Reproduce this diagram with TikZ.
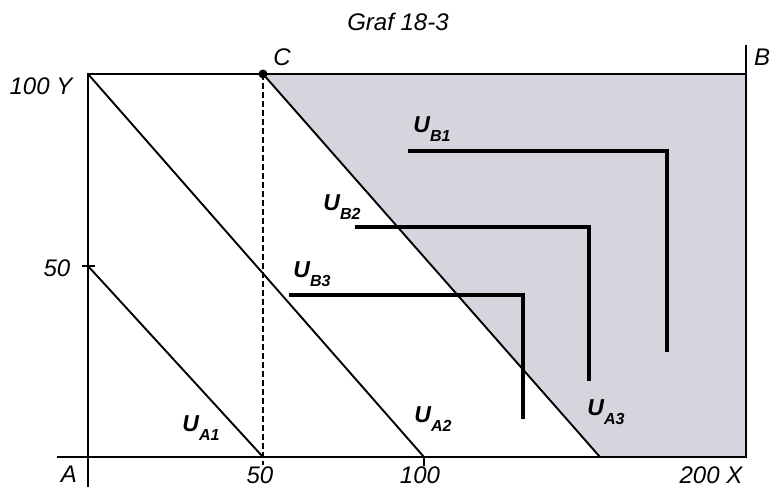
\documentclass[tikz,border=0pt]{standalone}
\usepackage{fontspec}
\setmainfont{Liberation Sans}
\usetikzlibrary{positioning}
\definecolor{shadegray}{RGB}{214,212,221}

\tikzset{
  axisline/.style={line width=2pt},
  budget/.style={line width=1.9pt},
  indiff/.style={line width=4.5pt},
  lbl/.style={font=\fontsize{24}{28}\selectfont\itshape, inner sep=0pt},
  ulbl/.style={font=\fontsize{23}{26}\selectfont\bfseries\itshape, inner sep=0pt},
}
\newcommand{\usub}[1]{U\raisebox{-9pt}{\fontsize{16}{18}\selectfont #1}}

\begin{document}
\begin{tikzpicture}[x=1pt,y=-1pt]
    \useasboundingbox (0,0) rectangle (771,487);

    % Box corners
    \coordinate (A) at (88,457);
    \coordinate (ytop) at (88,74);
    \coordinate (C) at (263,74);
    \coordinate (btop) at (746,74);
    \coordinate (B) at (746,457);
    \coordinate (ymid) at (88,266);
    \coordinate (x50) at (263,457);
    \coordinate (x100) at (424,457);
    \coordinate (a3end) at (600,457);

    % Shaded region
    \fill[shadegray] (C) -- (btop) -- (B) -- (a3end) -- cycle;

    % Axes and box
    \draw[axisline] (88,487) -- (ytop) -- (btop);
    \draw[axisline] (57,457) -- (B) -- (746,45);
    \draw[axisline] (82,266) -- (95,266);
    \draw[axisline] (x100) -- ++(0,9);
    \draw[dash pattern=on 6pt off 3pt, line width=1.3pt] (C) -- (263,465);
    \fill (C) circle (4.5pt);

    % Budget lines
    \draw[budget] (ymid) -- (x50);
    \draw[budget] (ytop) -- (x100);
    \draw[budget] (C) -- (a3end);

    % Indifference curves of B
    \draw[indiff] (408,151) -- (667,151) -- (667,352);
    \draw[indiff] (355,227) -- (589,227) -- (589,381);
    \draw[indiff] (289,295) -- (523,295) -- (523,419);

    % Labels
    \node[lbl] (title) at (398,22) {Graf 18-3};
    \node[lbl] (lc) at (282,57) {C};
    \node[lbl, anchor=west] (lb) at (754,57) {B};
    \node[lbl] (l100y) at (41,86) {100 Y};
    \node[lbl] (l50y) at (57,268) {50};
    \node[lbl] (la) at (69,474) {A};
    \node[lbl] (l50x) at (260,475) {50};
    \node[lbl] (l100x) at (420,475) {100};
    \node[lbl] (l200x) at (711,475) {200 X};

    \node[ulbl] (ub1) at (432,129) {\usub{B1}};
    \node[ulbl] (ub2) at (342,207) {\usub{B2}};
    \node[ulbl] (ub3) at (312,274) {\usub{B3}};
    \node[ulbl] (ua1) at (201,428) {\usub{A1}};
    \node[ulbl] (ua2) at (433,419) {\usub{A2}};
    \node[ulbl] (ua3) at (606,412) {\usub{A3}};
\end{tikzpicture}
\end{document}
